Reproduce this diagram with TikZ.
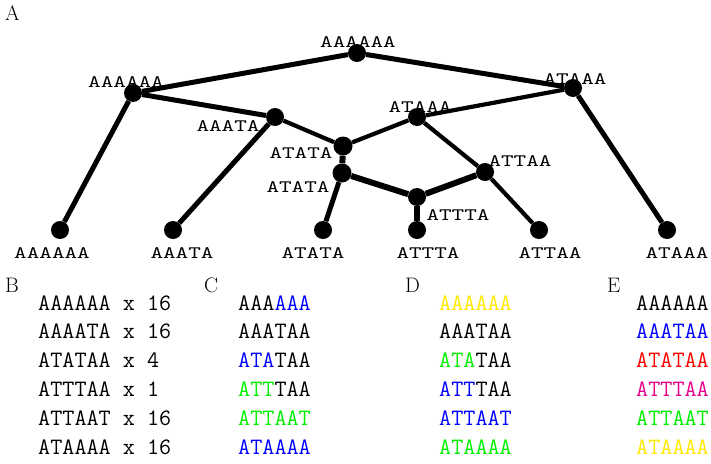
\documentclass[tikz,border=0pt]{standalone}
\usepackage{fontspec}
\newfontfamily\treefont[FakeStretch=1.37]{lmmono10-regular.otf}
\usepackage{xcolor}
\definecolor{seqblue}{RGB}{0,0,255}
\definecolor{seqgreen}{RGB}{0,240,0}
\definecolor{seqyellow}{RGB}{255,232,0}
\definecolor{seqred}{RGB}{255,0,0}
\definecolor{seqpink}{RGB}{232,0,140}
\begin{document}
\begin{tikzpicture}[x=1pt,y=-1pt,
  vertex/.style={circle,fill=black,inner sep=0pt,minimum size=18pt},
  tlabel/.style={inner sep=0pt,font=\treefont\fontsize{17.5}{17.5}\selectfont},
  panel/.style={inner sep=0pt,anchor=base west,font=\fontsize{21}{21}\selectfont},
  seq/.style={inner sep=0pt,anchor=base west,font=\ttfamily\fontsize{23.5}{23.5}\selectfont},
  edge/.style={line width=5pt},
  thinedge/.style={line width=4.2pt},
  heavyedge/.style={line width=6pt}]
\useasboundingbox (0,0) rectangle (711,463);

% ---- panel A: network of haplotypes ----
\node[vertex] (root) at (357,53) {};
\node[vertex] (lA) at (133,93) {};
\node[vertex] (rA) at (573,88) {};
\node[vertex] (aata) at (275,117) {};
\node[vertex] (mA) at (417,117) {};
\node[vertex,minimum size=19pt] (atU) at (343,146) {};
\node[vertex,minimum size=19pt] (atL) at (342,173) {};
\node[vertex] (ttaa) at (485,172) {};
\node[vertex] (ttta) at (417,197) {};
\node[vertex] (leaf1) at (60,230) {};
\node[vertex] (leaf2) at (173,230) {};
\node[vertex] (leaf3) at (323,230) {};
\node[vertex] (leaf4) at (417,230) {};
\node[vertex] (leaf5) at (539,230) {};
\node[vertex] (leaf6) at (667,230) {};

\draw[edge] (root) -- (lA);
\draw[edge] (root) -- (rA);
\draw[edge] (lA) -- (leaf1);
\draw[edge] (lA) -- (aata);
\draw[edge] (aata) -- (leaf2);
\draw[thinedge] (aata) -- (atU);
\draw[thinedge] (atU) -- (mA);
\draw[thinedge] (mA) -- (rA);
\draw[edge] (rA) -- (leaf6);
\draw[thinedge] (mA) -- (ttaa);
\draw[heavyedge] (atU) -- (atL);
\draw[edge] (atL) -- (leaf3);
\draw[heavyedge] (atL) -- (ttta);
\draw[heavyedge] (ttta) -- (ttaa);
\draw[heavyedge] (ttta) -- (leaf4);
\draw[thinedge] (ttaa) -- (leaf5);

\node[tlabel] (troot) at (358,42) {AAAAAA};
\node[tlabel] (tlA) at (126,82) {AAAAAA};
\node[tlabel] (trA) at (575,79) {ATAAA};
\node[tlabel] (taata) at (228,126) {AAATA};
\node[tlabel] (tmA) at (420,107) {ATAAA};
\node[tlabel] (tatU) at (301,153) {ATATA};
\node[tlabel] (tatL) at (298,187) {ATATA};
\node[tlabel] (tttaa) at (520,161) {ATTAA};
\node[tlabel] (tttta) at (458,215) {ATTTA};
\node[tlabel] (tleaf1) at (52,253) {AAAAAA};
\node[tlabel] (tleaf2) at (182,253) {AAATA};
\node[tlabel] (tleaf3) at (313,253) {ATATA};
\node[tlabel] (tleaf4) at (428,253) {ATTTA};
\node[tlabel] (tleaf5) at (550,253) {ATTAA};
\node[tlabel] (tleaf6) at (677,253) {ATAAA};

% ---- panel letters ----
\node[panel] (pA) at (5,20) {A};
\node[panel] (pB) at (5,292) {B};
\node[panel] (pC) at (204,292) {C};
\node[panel] (pD) at (405,292) {D};
\node[panel] (pE) at (607,292) {E};

% ---- panel B: counts ----
\node[seq] (b1) at (38,310) {AAAAAA x 16};
\node[seq] (b2) at (38,338) {AAAATA x 16};
\node[seq] (b3) at (38,367) {ATATAA x 4};
\node[seq] (b4) at (38,396) {ATTTAA x 1};
\node[seq] (b5) at (38,425) {ATTAAT x 16};
\node[seq] (b6) at (38,454) {ATAAAA x 16};

% ---- panel C ----
\node[seq] (c1) at (238,310) {AAA\textcolor{seqblue}{AAA}};
\node[seq] (c2) at (238,338) {AAATAA};
\node[seq] (c3) at (238,367) {\textcolor{seqblue}{ATA}TAA};
\node[seq] (c4) at (238,396) {\textcolor{seqgreen}{ATT}TAA};
\node[seq,text=seqgreen] (c5) at (238,425) {ATTAAT};
\node[seq,text=seqblue] (c6) at (238,454) {ATAAAA};

% ---- panel D ----
\node[seq,text=seqyellow] (d1) at (439,310) {AAAAAA};
\node[seq] (d2) at (439,338) {AAATAA};
\node[seq] (d3) at (439,367) {\textcolor{seqgreen}{ATA}TAA};
\node[seq] (d4) at (439,396) {\textcolor{seqblue}{ATT}TAA};
\node[seq,text=seqblue] (d5) at (439,425) {ATTAAT};
\node[seq,text=seqgreen] (d6) at (439,454) {ATAAAA};

% ---- panel E ----
\node[seq] (e1) at (636,310) {AAAAAA};
\node[seq,text=seqblue] (e2) at (636,338) {AAATAA};
\node[seq,text=seqred] (e3) at (636,367) {ATATAA};
\node[seq,text=seqpink] (e4) at (636,396) {ATTTAA};
\node[seq,text=seqgreen] (e5) at (636,425) {ATTAAT};
\node[seq,text=seqyellow] (e6) at (636,454) {ATAAAA};
\end{tikzpicture}
\end{document}
